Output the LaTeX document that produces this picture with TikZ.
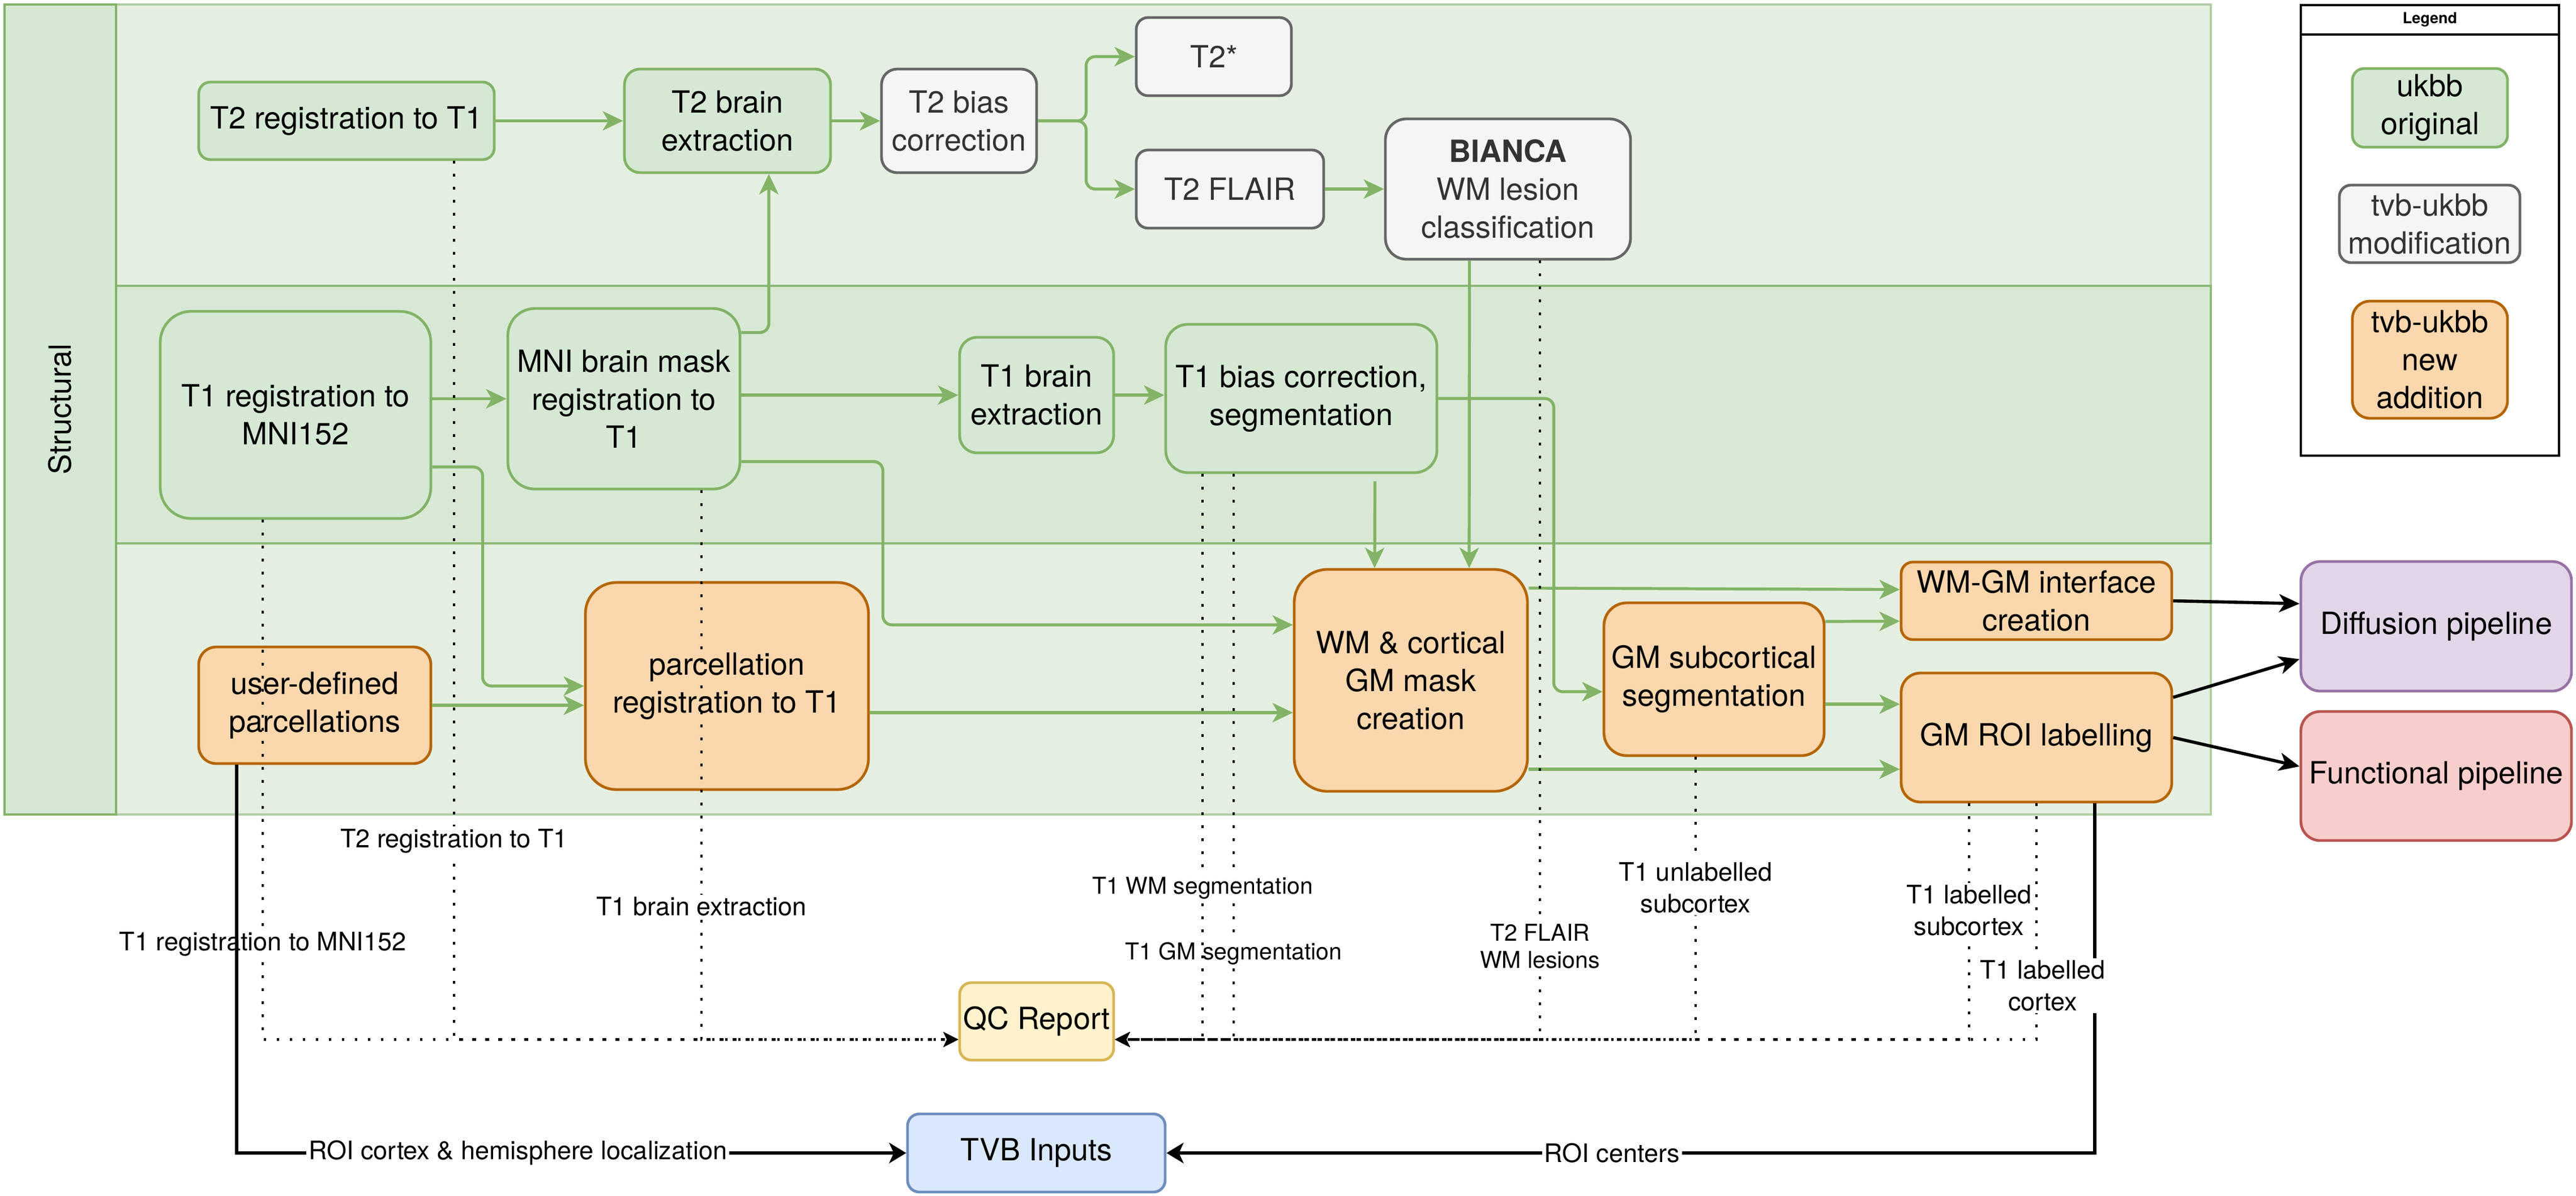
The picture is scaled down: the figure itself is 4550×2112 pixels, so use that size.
\documentclass[tikz,border=0pt]{standalone}
\usepackage{fontspec}
\setmainfont{TeX Gyre Heros}
\usetikzlibrary{arrows.meta,calc}
\definecolor{gfill}{HTML}{D5E8D4}
\definecolor{gline}{HTML}{82B366}
\definecolor{grayfill}{HTML}{F5F5F5}
\definecolor{grayline}{HTML}{666666}
\definecolor{graytext}{HTML}{333333}
\definecolor{ofill}{HTML}{FAD7AC}
\definecolor{oline}{HTML}{B46504}
\definecolor{yfill}{HTML}{FFF2CC}
\definecolor{yline}{HTML}{D6B656}
\definecolor{bfill}{HTML}{DAE8FC}
\definecolor{bline}{HTML}{6C8EBF}
\definecolor{pfill}{HTML}{E1D5E7}
\definecolor{pline}{HTML}{9673A6}
\definecolor{rfill}{HTML}{F8CECC}
\definecolor{rline}{HTML}{B85450}
\definecolor{lanelight}{HTML}{E5EFE1}
\definecolor{lanemid}{HTML}{D9E8D5}
\definecolor{laneborder}{HTML}{B0CFA2}
\definecolor{midborder}{HTML}{8DBA7A}
\newcommand\boxfont{\fontsize{13.5}{16.8}\selectfont}
\newcommand\labfont{\fontsize{11.25}{14}\selectfont}
\newcommand\smlabfont{\fontsize{10.25}{12}\selectfont}
\newcommand\bnode[7]{%
  \pgfmathsetmacro\bxrad{0.0375*min(#5-#3,#6-#4)}%
  \node[#1, minimum width={(#5-#3)*0.25pt}, minimum height={(#6-#4)*0.25pt}, rounded corners=\bxrad pt] (#2) at ({(#3+#5)/2},{(#4+#6)/2}) {#7};}
\tikzset{
  anybox/.style={draw, line width=1.2pt, inner sep=1pt, align=center, font=\boxfont},
  gbox/.style={anybox, fill=gfill, draw=gline},
  graybox/.style={anybox, fill=grayfill, draw=grayline, text=graytext},
  obox/.style={anybox, fill=ofill, draw=oline},
  ybox/.style={anybox, fill=yfill, draw=yline},
  bluebox/.style={anybox, fill=bfill, draw=bline},
  pbox/.style={anybox, fill=pfill, draw=pline},
  rbox/.style={anybox, fill=rfill, draw=rline},
  garrow/.style={draw=gline, line width=1.3pt, rounded corners=4pt, -{Stealth[length=9pt,width=8.5pt,inset=2.5pt]}},
  barrow/.style={draw=black, line width=1.4pt, -{Stealth[length=9pt,width=8pt,inset=2.5pt]}},
  tvbarrow/.style={draw=black, line width=1.4pt, -{Stealth[length=7.5pt,width=9pt,inset=2pt]}},
  dotarrow/.style={draw=black, line width=1.1pt, dash pattern=on 1.1pt off 4.65pt, -{Stealth[length=6.5pt,width=6.5pt,inset=1.5pt]}},
  lab/.style={fill=white, inner sep=1pt, align=center, font=\labfont, text=black},
  smlab/.style={lab, font=\smlabfont},
}
\begin{document}
\begin{tikzpicture}[x=0.25pt,y=-0.25pt]
\useasboundingbox (0,0) rectangle (4550,2112);
% pool and lanes
\filldraw[fill=lanelight, draw=laneborder, line width=1.1pt] (205,8) rectangle (3905,505);
\filldraw[fill=lanelight, draw=laneborder, line width=1.1pt] (205,960) rectangle (3905,1439);
\filldraw[fill=lanemid, draw=midborder, line width=1.1pt] (205,505) rectangle (3905,960);
\filldraw[fill=gfill, draw=gline, line width=1.1pt] (8,8) rectangle (205,1439);
\node[rotate=90, font=\boxfont] (structural) at (106,723) {Structural};
% legend
\draw[line width=0.8pt] (4064,9) rectangle (4520,805);
\draw[line width=0.8pt] (4064,61) -- (4520,61);
\node[font=\bfseries\fontsize{6.75}{8}\selectfont] (legendtitle) at (4292,35) {Legend};
\bnode{gbox}{lgorig}{4155}{121}{4429}{260}{ukbb\\original}
\bnode{graybox}{lgmod}{4132}{327}{4451}{464}{tvb-ukbb\\modification}
\bnode{obox}{lgnew}{4155}{532}{4429}{739}{tvb-ukbb\\new\\addition}
% boxes
\bnode{gbox}{t2reg}{351}{145}{873}{282}{T2 registration to T1}
\bnode{gbox}{t2brain}{1103}{122}{1467}{305}{T2 brain\\extraction}
\bnode{graybox}{t2bias}{1557}{122}{1831}{305}{T2 bias\\correction}
\bnode{graybox}{t2star}{2007}{31}{2281}{169}{T2*}
\bnode{graybox}{flair}{2007}{265}{2338}{403}{T2 FLAIR}
\bnode{graybox}{bianca}{2447}{210}{2880}{458}{\textbf{BIANCA}\\WM lesion\\classification}
\bnode{gbox}{t1reg}{283}{550}{761}{916}{T1 registration to\\MNI152}
\bnode{gbox}{mni}{897}{545}{1307}{864}{MNI brain mask\\registration to\\T1}
\bnode{gbox}{t1brain}{1695}{596}{1967}{800}{T1 brain\\extraction}
\bnode{gbox}{t1bias}{2059}{573}{2538}{835}{T1 bias correction,\\segmentation}
\bnode{obox}{userdef}{351}{1143}{761}{1349}{user-defined\\parcellations}
\bnode{obox}{parcel}{1034}{1029}{1534}{1395}{parcellation\\registration to T1}
\bnode{obox}{wm}{2286}{1006}{2698}{1398}{WM \& cortical\\GM mask\\creation}
\bnode{obox}{gmsub}{2833}{1065}{3222}{1335}{GM subcortical\\segmentation}
\bnode{obox}{wmgm}{3358}{993}{3836}{1130}{WM-GM interface\\creation}
\bnode{obox}{gmroi}{3358}{1189}{3836}{1417}{GM ROI labelling}
\bnode{pbox}{diff}{4064}{992}{4542}{1221}{Diffusion pipeline}
\bnode{rbox}{func}{4064}{1257}{4542}{1485}{Functional pipeline}
\bnode{ybox}{qc}{1695}{1736}{1967}{1873}{QC Report}
\bnode{bluebox}{tvb}{1603}{1968}{2058}{2106}{TVB Inputs}
% green connectors
\draw[garrow] (t2reg.east) -- (t2brain.west);
\draw[garrow] (t2brain.east) -- (t2bias.west);
\draw[garrow] (t2bias.east) -- ++(85,0) |- (t2star.west);
\draw[garrow] (t2bias.east) -- ++(85,0) |- (flair.west);
\draw[garrow] (flair.east) -- (bianca.west);
\draw[garrow] ($(mni.east)+(0,-117)$) -| ($(t2brain.south)+(73,0)$);
\draw[garrow] (t1reg.east |- mni.west) -- (mni.west);
\draw[garrow] (mni.east |- t1brain.west) -- (t1brain.west);
\draw[garrow] (t1brain.east) -- (t1bias.west |- t1brain.east);
\draw[garrow] ($(t1reg.east)+(0,92)$) -- ++(89,0) |- (parcel.west);
\draw[garrow] (userdef.east) -- (parcel.west |- userdef.east);
\draw[garrow] ($(mni.east)+(0,111)$) -- ++(250,0) |- ($(wm.west)+(0,-98)$);
\draw[garrow] ($(parcel.east)+(0,47)$) -- ($(wm.west)+(0,57)$);
\draw[garrow] ($(t1bias.south)+(130,13)$) -- ($(wm.north)+(-64,0)$);
\draw[garrow] ($(bianca.south)+(-68,0)$) -- ($(wm.north)+(103,0)$);
\draw[garrow] (t1bias.east) -- ++(204,0) |- ($(gmsub.west)+(0,22)$);
\draw[garrow] ($(wm.east)+(0,-163)$) -- ($(wmgm.west)+(0,-20)$);
\draw[garrow] ($(gmsub.east)+(0,-102)$) -- ($(wmgm.west)+(0,36)$);
\draw[garrow] ($(gmsub.east)+(0,44)$) -- ($(gmroi.west)+(0,-59)$);
\draw[garrow] ($(wm.east)+(0,157)$) -- ($(gmroi.west)+(0,56)$);
% black connectors to pipelines
\draw[barrow] (wmgm.east) -- ($(diff.west)+(0,-40)$);
\draw[barrow] ($(gmroi.east)+(0,-71)$) -- ($(diff.west)+(0,58)$);
\draw[barrow] (gmroi.east) -- ($(func.west)+(0,-17)$);
% GM ROI to TVB inputs
\draw[tvbarrow] ($(gmroi.south)+(103,0)$) |- (tvb.east) node[lab, pos=0.76] (lroic) {ROI centers};
% dotted QC connectors
\draw[dotarrow] ($(t1reg.south)+(-58,0)$) |- ($(qc.west)+(0,32)$) node[lab, pos=0.408] (lq1) {T1 registration to MNI152};
\draw[dotarrow] ($(t2reg.south)+(190,0)$) |- ($(qc.west)+(0,32)$) node[lab, pos=0.387] (lq2) {T2 registration to T1};
\draw[dotarrow] ($(mni.south)+(137,0)$) |- ($(qc.west)+(0,32)$) node[lab, pos=0.379] (lq3) {T1 brain extraction};
\draw[dotarrow] ($(t1bias.south)+(-119.5,0)$) |- ($(qc.east)+(0,32)$) node[smlab, pos=0.424] (lq5) {T1 GM segmentation};
\draw[dotarrow] ($(t1bias.south)+(-174.5,0)$) |- ($(qc.east)+(0,32)$) node[smlab, pos=0.366] (lq4) {T1 WM segmentation};
\draw[dotarrow] ($(bianca.south)+(56.5,0)$) |- ($(qc.east)+(0,32)$) node[smlab, pos=0.44] (lq6) {T2 FLAIR\\WM lesions};
\draw[dotarrow] ($(gmsub.south)+(-32.5,0)$) |- ($(qc.east)+(0,32)$) node[lab, pos=0.231] (lq7) {T1 unlabelled\\subcortex};
\draw[dotarrow] ($(gmroi.south)+(-119,0)$) |- ($(qc.east)+(0,32)$) node[lab, pos=0.227] (lq8) {T1 labelled\\subcortex};
\draw[dotarrow] (gmroi.south) |- ($(qc.east)+(0,32)$) node[lab, pos=0.386, xshift=2.75pt] (lq9) {T1 labelled\\cortex};
% user-defined to TVB inputs
\draw[tvbarrow] ($(userdef.south)+(-138,0)$) |- (tvb.west) node[lab, pos=0.71] (lroil) {ROI cortex \& hemisphere localization};
\end{tikzpicture}
\end{document}
